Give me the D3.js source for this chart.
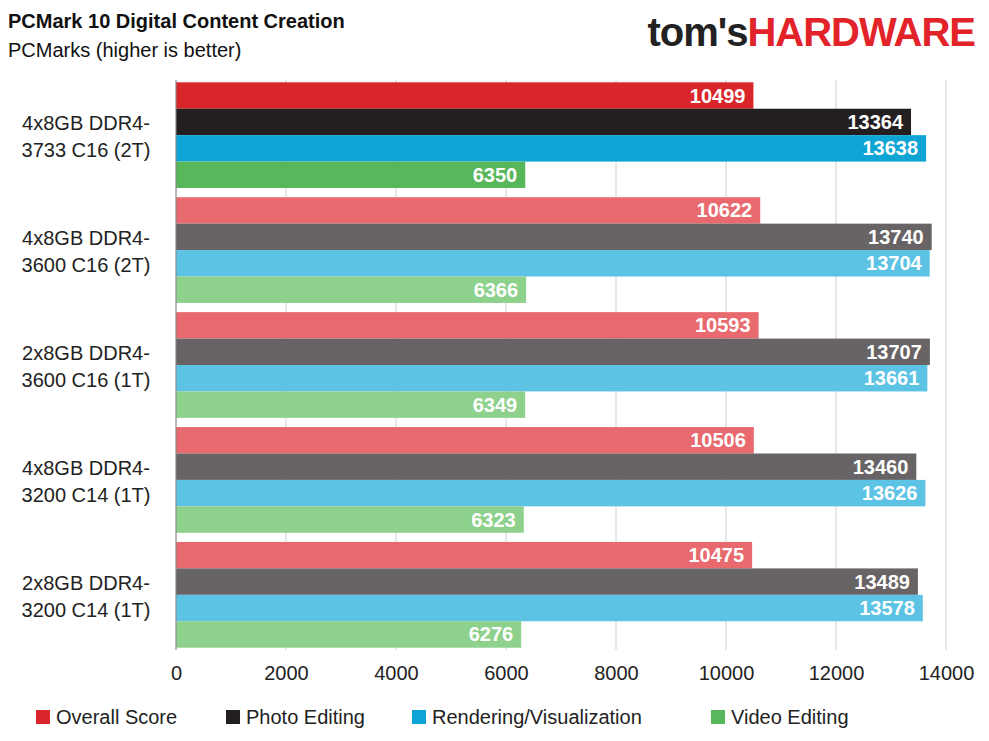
<!DOCTYPE html>
<html lang="en">
<head>
<meta charset="UTF-8">
<title>PCMark 10 Digital Content Creation</title>
<script src="https://d3js.org/d3.v7.min.js"></script>
<style>
  body { margin: 0; background: #fff; font-family: "Liberation Sans", Arial, sans-serif; }
  .val { font-weight: bold; fill: #fff; font-size: 20px; }
  .tick text { font-size: 20px; fill: #222; font-family: "Liberation Sans", Arial, sans-serif; }
</style>
</head>
<body>
<div id="chart"></div>
<script>
const categories = ["4x8GB DDR4-|3733 C16 (2T)", "4x8GB DDR4-|3600 C16 (2T)", "2x8GB DDR4-|3600 C16 (1T)", "4x8GB DDR4-|3200 C14 (1T)", "2x8GB DDR4-|3200 C14 (1T)"];
const series = ["Overall Score", "Photo Editing", "Rendering/Visualization", "Video Editing"];
const overall = [10499, 10622, 10593, 10506, 10475];
const photo = [13364, 13740, 13707, 13460, 13489];
const render = [13638, 13704, 13661, 13626, 13578];
const video = [6350, 6366, 6349, 6323, 6276];
const xTicks = [0, 2000, 4000, 6000, 8000, 10000, 12000, 14000];
const strong = ["#d9262b", "#231f20", "#0ea5d6", "#57b75a"];
const light = ["#e86a6e", "#686465", "#5cc3e4", "#8ed18c"];

const values = [overall, photo, render, video];
const W = 989, H = 741;
const svg = d3.select("#chart").append("svg").attr("width", W).attr("height", H);

svg.append("text").attr("x", 8).attr("y", 28).attr("font-weight", "bold").attr("font-size", 20).attr("fill", "#111").text("PCMark 10 Digital Content Creation");
svg.append("text").attr("x", 8).attr("y", 57).attr("font-size", 20).attr("fill", "#111").text("PCMarks (higher is better)");
const logo = svg.append("text").attr("x", 975).attr("y", 46).attr("text-anchor", "end").attr("font-weight", "bold").attr("font-size", 40).attr("letter-spacing", "-1");
logo.append("tspan").attr("fill", "#222").text("tom's");
logo.append("tspan").attr("fill", "#e2232a").text("HARDWARE");

const x = d3.scaleLinear().domain([0, 14000]).range([176, 946]);
const y = d3.scaleBand().domain(d3.range(categories.length)).range([80, 650]).paddingInner(0.08).paddingOuter(0.02);
const sub = d3.scaleBand().domain(d3.range(series.length)).range([0, y.bandwidth()]);

svg.append("g").selectAll("line").data(xTicks).join("line")
  .attr("x1", d => x(d)).attr("x2", d => x(d)).attr("y1", 80).attr("y2", 650)
  .attr("stroke", "#d0d0d0");

const xa = svg.append("g").attr("transform", "translate(0,650)")
  .call(d3.axisBottom(x).tickValues(xTicks).tickFormat(d3.format("d")).tickSize(0).tickPadding(16));
xa.select(".domain").remove();

categories.forEach((c, i) => {
  const t = svg.append("text").attr("text-anchor", "middle").attr("font-size", 20).attr("fill", "#222");
  const cy = y(i) + y.bandwidth() / 2;
  c.split("|").forEach((s, k) => t.append("tspan").attr("x", 86).attr("y", cy - 5 + k * 27).text(s));
});

const g = svg.append("g");
categories.forEach((c, i) => {
  series.forEach((s, j) => {
    const v = values[j][i];
    const by = y(i) + sub(j);
    g.append("rect").attr("x", x(0)).attr("y", by).attr("width", x(v) - x(0)).attr("height", sub.bandwidth())
      .attr("fill", i === 0 ? strong[j] : light[j]);
    g.append("text").attr("class", "val").attr("x", x(v) - 8).attr("y", by + sub.bandwidth() / 2 + 7)
      .attr("text-anchor", "end").text(v);
  });
});

svg.append("line").attr("x1", x(0)).attr("x2", x(0)).attr("y1", 80).attr("y2", 650).attr("stroke", "#888");

const legX = [36, 226, 412, 711];
series.forEach((s, j) => {
  svg.append("rect").attr("x", legX[j]).attr("y", 710).attr("width", 14).attr("height", 14).attr("fill", strong[j]);
  svg.append("text").attr("x", legX[j] + 20).attr("y", 724).attr("font-size", 20).attr("fill", "#222").text(s);
});
</script>
</body>
</html>
